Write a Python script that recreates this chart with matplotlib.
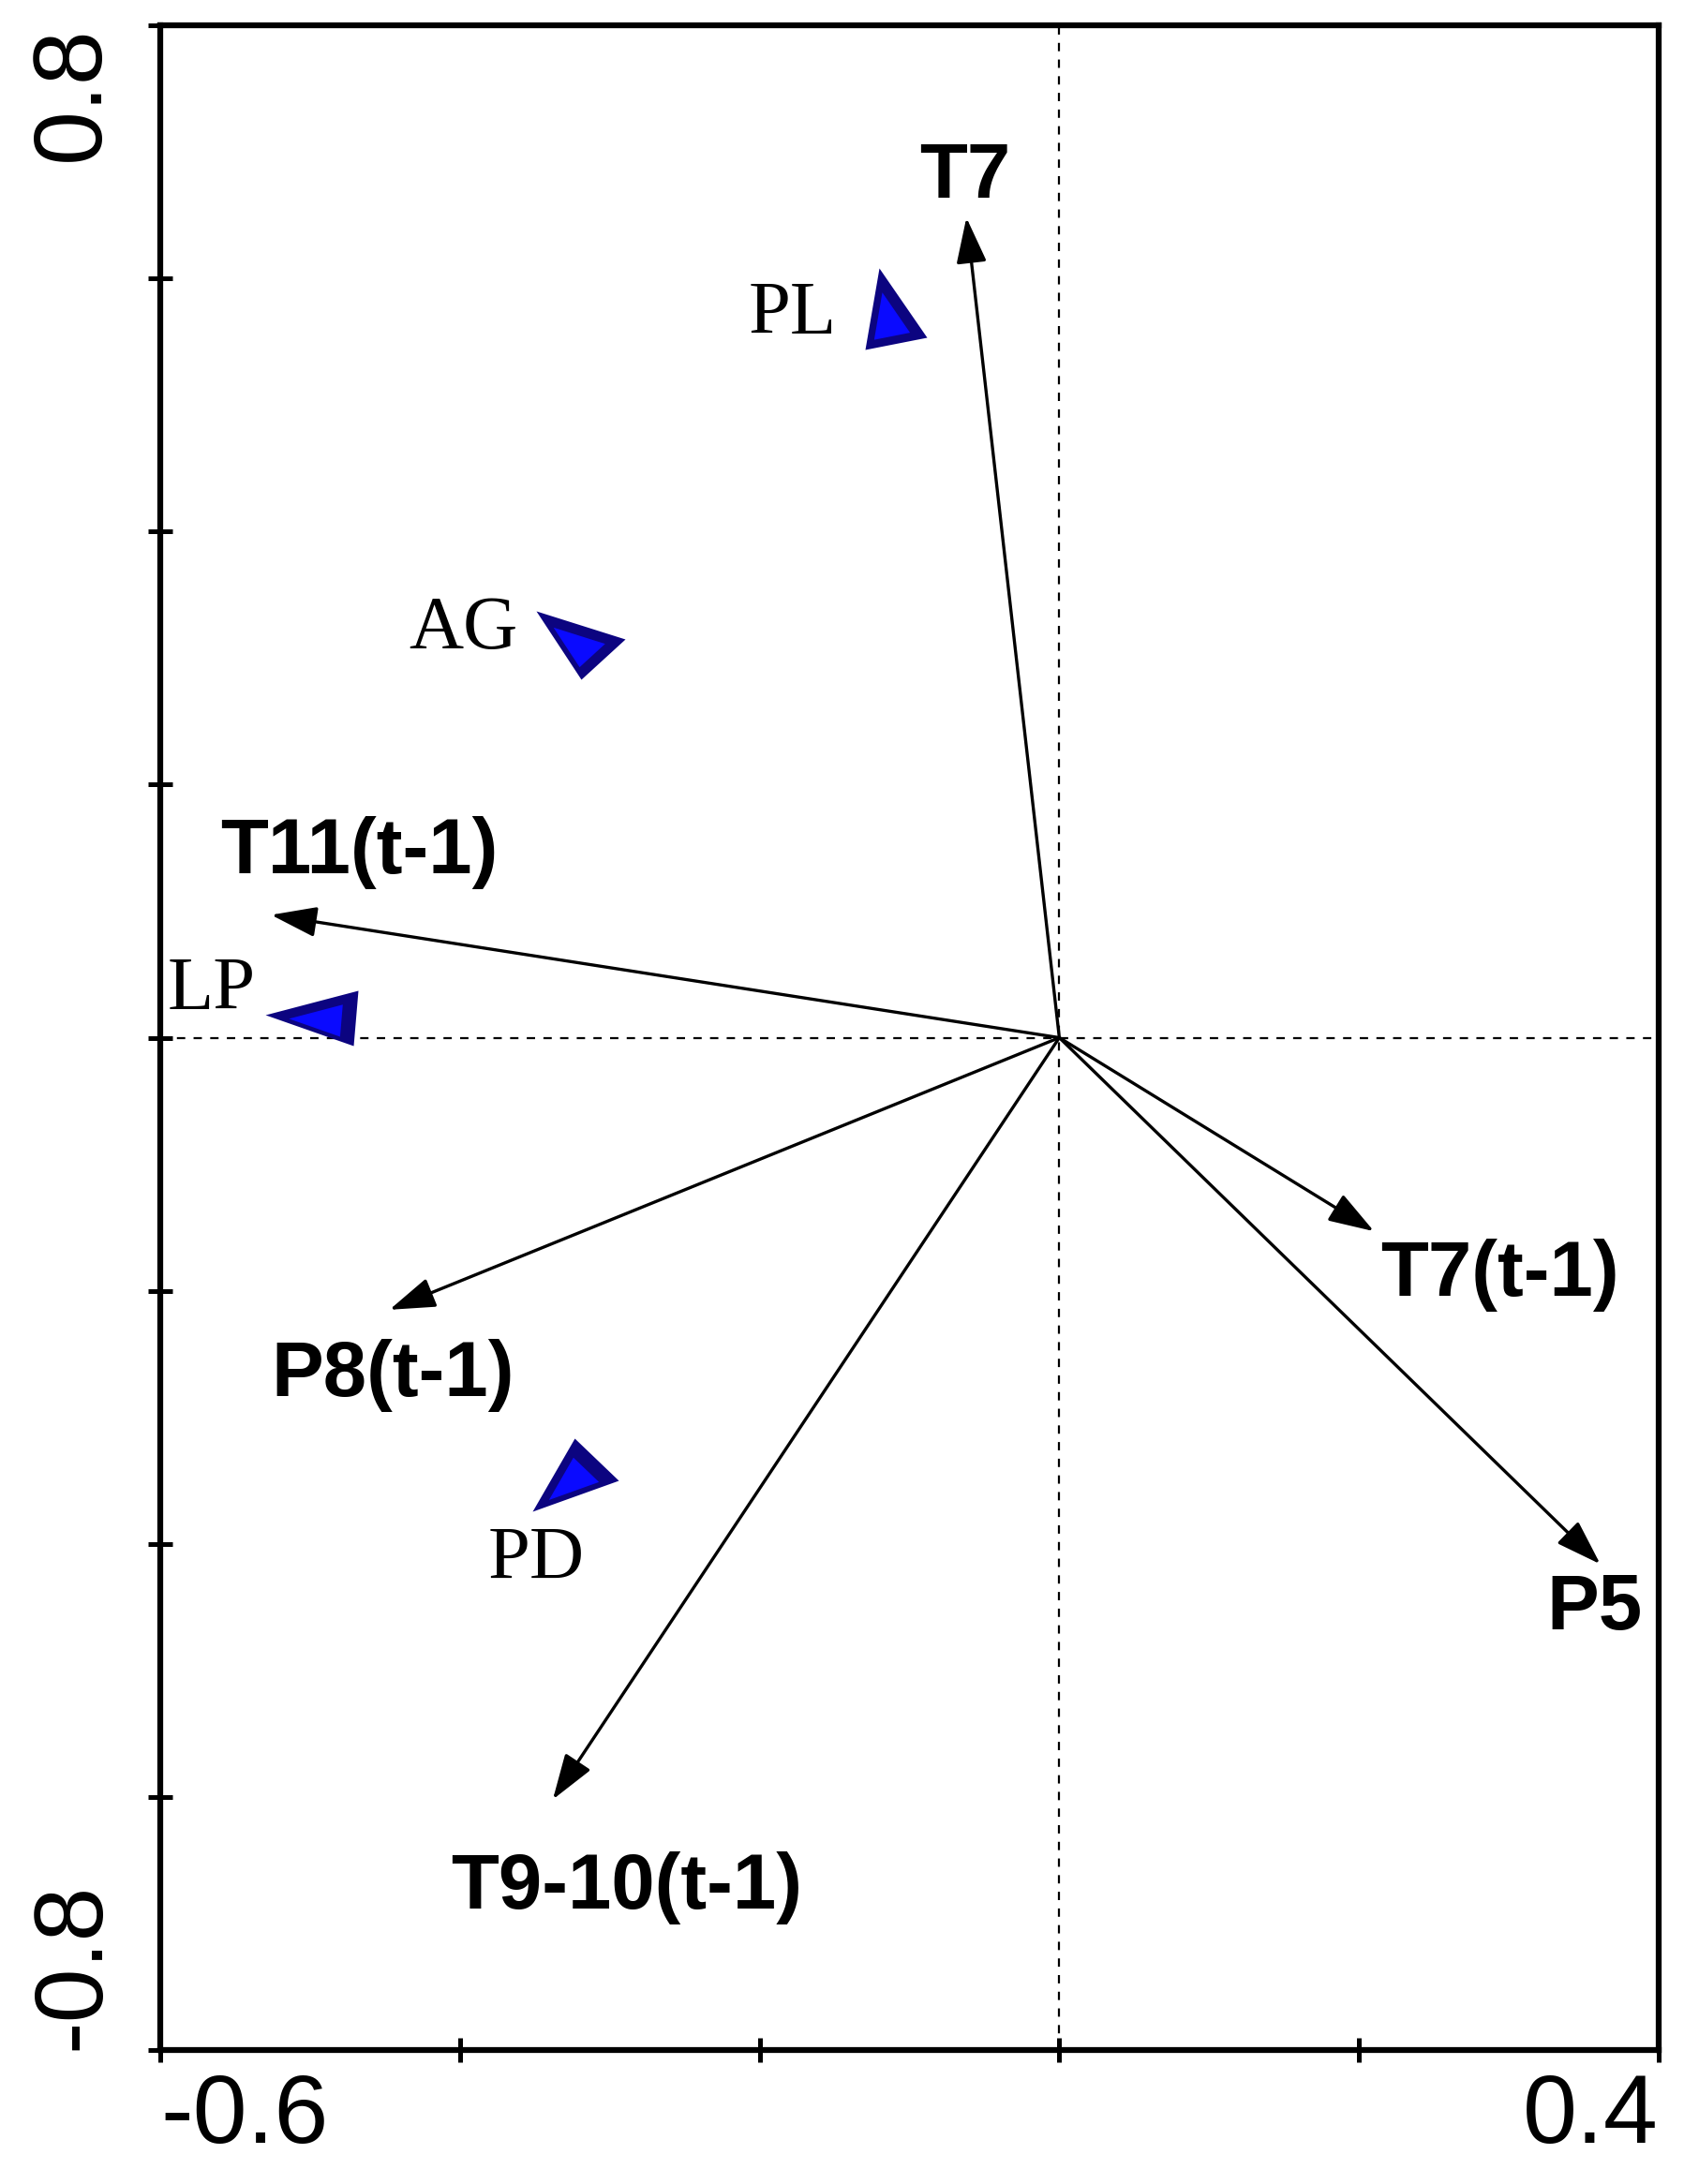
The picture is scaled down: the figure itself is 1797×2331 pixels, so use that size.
import matplotlib
matplotlib.use("Agg")
import matplotlib.pyplot as plt
import numpy as np
from matplotlib.path import Path

# ---------------- data ----------------
env_names = ["T7", "T11(t-1)", "P8(t-1)", "T9-10(t-1)", "T7(t-1)", "P5"]
env_x = [-0.062, -0.526, -0.447, -0.338, 0.210, 0.361]
env_y = [0.648, 0.097, -0.215, -0.602, -0.153, -0.416]

sp_names = ["PL", "AG", "LP", "PD"]
sp_x = [-0.113, -0.319, -0.490, -0.323]
sp_y = [0.568, 0.312, 0.017, -0.347]

x_ticks = [-0.6, -0.4, -0.2, 0.0, 0.2, 0.4]
x_ticklabels = ["-0.6", "", "", "", "", "0.4"]
y_ticks = [-0.8, -0.6, -0.4, -0.2, 0.0, 0.2, 0.4, 0.6, 0.8]
y_ticklabels = ["-0.8", "", "", "", "", "", "", "", "0.8"]

# ---------------- layout / style ----------------
env_label_pos = {
    "T7": (-0.063, 0.680),
    "T11(t-1)": (-0.467, 0.146),
    "P8(t-1)": (-0.445, -0.267),
    "T9-10(t-1)": (-0.289, -0.672),
    "T7(t-1)": (0.294, -0.188),
    "P5": (0.357, -0.451),
}
sp_label_pos = {
    "PL": (-0.178, 0.571),
    "AG": (-0.398, 0.322),
    "LP": (-0.566, 0.037),
    "PD": (-0.349, -0.413),
}
# triangle shapes (pixel offsets, y up)
sp_shapes = {
    "PL": [(-12, 54), (-27, -33), (39, -20)],
    "AG": [(-48, 34), (47, 4), (0, -39)],
    "LP": [(-64, 2), (35, 28), (30, -31)],
    "PD": [(-1, 41), (46, -4), (-46, -37)],
}

DPI = 100
fig = plt.figure(figsize=(17.97, 23.31), dpi=DPI)
ax = fig.add_axes([171 / 1797, 1 - 2188 / 2331, (1770 - 171) / 1797, (2188 - 27) / 2331])
ax.set_xlim(-0.6, 0.4)
ax.set_ylim(-0.8, 0.8)

for s in ax.spines.values():
    s.set_linewidth(4.5)

ax.set_xticks(x_ticks)
ax.set_xticklabels(x_ticklabels, fontsize=75, family="Liberation Sans")
ax.set_yticks(y_ticks)
ax.set_yticklabels(y_ticklabels, fontsize=75, family="Liberation Sans", rotation=90)
ax.tick_params(direction="inout", length=19, width=3.6, pad=8)
ax.tick_params(axis="y", pad=22)
xl = ax.get_xticklabels()
xl[0].set_ha("left")
xl[-1].set_ha("right")
yl = ax.get_yticklabels()
yl[0].set_va("bottom")
yl[-1].set_va("top")

# dashed zero lines
ax.axhline(0, color="black", lw=1.6, ls=(0, (4, 4)), zorder=1)
ax.axvline(0, color="black", lw=1.6, ls=(0, (4, 4)), zorder=1)

# arrows
for name, x, y in zip(env_names, env_x, env_y):
    ax.annotate("", xy=(x, y), xytext=(0, 0),
                arrowprops=dict(arrowstyle="-|>,head_length=30,head_width=10",
                                mutation_scale=1, lw=2.4, color="black",
                                shrinkA=0, shrinkB=0), zorder=3)
    lx, ly = env_label_pos[name]
    ax.text(lx, ly, name, fontsize=60, fontweight="bold", family="Liberation Sans",
            ha="center", va="center", zorder=4)

# species triangles
for name, x, y in zip(sp_names, sp_x, sp_y):
    verts = np.array(sp_shapes[name], dtype=float)
    outer = Path(np.vstack([verts, verts[:1]]), closed=True)
    r = np.abs(verts).max()
    ax.plot([x], [y], marker=outer, markersize=2 * r * 72 / DPI, color="#0C0480",
            markeredgewidth=0, ls="none", zorder=5)
    inner_v = verts * 0.58 + np.array([-2.0, -3.0])
    inner = Path(np.vstack([inner_v, inner_v[:1]]), closed=True)
    ri = np.abs(inner_v).max()
    ax.plot([x], [y], marker=inner, markersize=2 * ri * 72 / DPI, color="#0A0AFF",
            markeredgewidth=0, ls="none", zorder=6)
    lx, ly = sp_label_pos[name]
    ax.text(lx, ly, name, fontsize=58, family="Liberation Serif",
            ha="center", va="center", zorder=4)

fig.savefig("out.png", dpi=DPI)
